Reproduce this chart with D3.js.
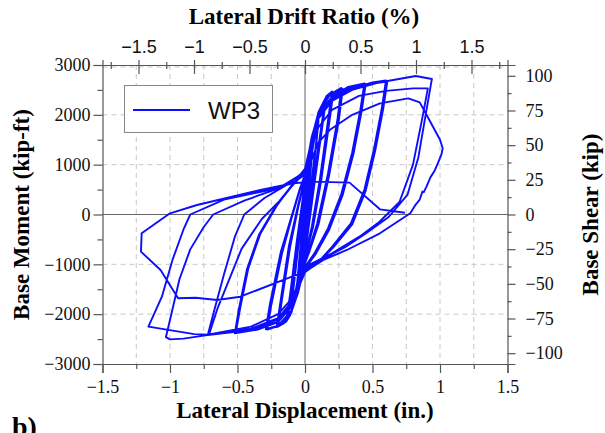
<!DOCTYPE html>
<html><head><meta charset="utf-8">
<script src="https://cdn.jsdelivr.net/npm/d3@7"></script>
<style>
html,body{margin:0;padding:0;background:#fff;}
svg{display:block;}
</style></head>
<body>
<svg id="chart" width="605" height="433"></svg>
<script>
// Hysteresis record of specimen WP3: lateral displacement (in.) and base moment (kip-ft)
const displacement = [
  0, 0.015, 0.03, 0.02, 0, -0.015, -0.03, -0.02, 0,
  0.03, 0.06, 0.045, 0.01, -0.03, -0.06, -0.045, -0.01,
  0.04, 0.08, 0.1, 0.085, 0.04, 0.01, -0.04, -0.08, -0.1, -0.085, -0.04, -0.01,
  0.05, 0.1, 0.08, 0.03, 0, -0.05, -0.1, -0.08, -0.03, 0,
  0.05, 0.1, 0.15, 0.12, 0.06, 0.02, 0, -0.05, -0.1, -0.13, -0.1, -0.05, -0.02, 0,
  0.05, 0.1, 0.16, 0.13, 0.07, 0.02, 0, -0.05, -0.11, -0.14, -0.11, -0.06, -0.02, 0,
  0.05, 0.1, 0.16, 0.2, 0.17, 0.11, 0.05, 0, -0.05, -0.1, -0.15, -0.2, -0.17, -0.11, -0.05, 0,
  0.05, 0.1, 0.16, 0.21, 0.18, 0.12, 0.06, 0, -0.05, -0.1, -0.16, -0.21, -0.18, -0.12, -0.05, 0,
  0.05, 0.1, 0.18, 0.27, 0.24, 0.17, 0.09, 0.03, 0, -0.05, -0.1, -0.2, -0.28, -0.25, -0.17, -0.1, -0.04, 0,
  0.05, 0.1, 0.18, 0.28, 0.25, 0.18, 0.1, 0.03, 0, -0.05, -0.1, -0.2, -0.29, -0.26, -0.18, -0.1, -0.04, 0,
  0.05, 0.1, 0.2, 0.32, 0.44, 0.41, 0.35, 0.27, 0.17, 0.07, 0, -0.05, -0.1, -0.2, -0.35, -0.52, -0.49, -0.43, -0.34, -0.22, -0.1, 0,
  0.05, 0.1, 0.2, 0.32, 0.45, 0.42, 0.36, 0.28, 0.18, 0.08, 0, -0.05, -0.1, -0.2, -0.35, -0.51, -0.48, -0.42, -0.33, -0.21, -0.1, 0,
  0.05, 0.1, 0.2, 0.35, 0.5, 0.6, 0.57, 0.51, 0.44, 0.34, 0.2, 0.1, 0, -0.05, -0.1, -0.2, -0.35, -0.5, -0.72, -0.67, -0.6, -0.52, -0.45, -0.3, -0.12, 0,
  0.05, 0.1, 0.2, 0.35, 0.5, 0.61, 0.58, 0.52, 0.45, 0.35, 0.21, 0.1, 0, -0.05, -0.1, -0.2, -0.35, -0.5, -0.71, -0.65, -0.57, -0.47, -0.32, -0.19, -0.08, 0,
  0.05, 0.1, 0.2, 0.35, 0.55, 0.82, 0.94, 0.9, 0.84, 0.76, 0.62, 0.45, 0.3, 0.14, 0, -0.05, -0.1, -0.2, -0.4, -0.7, -0.9, -1.0, -1.03, -0.99, -0.93, -0.85, -0.75, -0.68, -0.45, -0.2, 0,
  0.05, 0.1, 0.2, 0.4, 0.6, 0.8, 0.91, 0.87, 0.8, 0.7, 0.55, 0.4, 0.2, 0, -0.05, -0.1, -0.2, -0.4, -0.72, -0.82, -1.16, -1.06, -0.98, -0.9, -0.85, -0.6, -0.3, -0.1, 0,
  0.05, 0.1, 0.185, 0.35, 0.555, 0.765, 0.85, 0.92, 1.0, 1.02, 1.01, 0.98, 0.96, 0.93, 0.9, 0.88, 0.87, 0.85, 0.82, 0.78,
  0.555, 0.31, 0.136, 0, -0.16, -0.48, -0.65, -0.81, -0.94, -1.07, -1.215, -1.21, -1.0, -0.8, -0.33, -0.087, 0.06, 0.33, 0.555, 0.74
];
const moment = [
  0, 420, 780, 480, -20, -420, -780, -470, 30,
  820, 1420, 980, -60, -860, -1430, -980, 80,
  1050, 1680, 1920, 1500, 480, -380, -1100, -1690, -1900, -1480, -420, 360,
  1350, 1880, 1320, 160, -520, -1320, -1860, -1300, -150, 480,
  1420, 2010, 2300, 1750, 650, -320, -720, -1480, -1960, -2110, -1580, -560, 220, 620,
  1480, 2000, 2380, 1800, 620, -400, -760, -1500, -2020, -2150, -1600, -520, 260, 660,
  1520, 2060, 2380, 2470, 1880, 700, -250, -830, -1520, -1940, -2170, -2250, -1700, -650, 150, 700,
  1500, 2020, 2350, 2450, 1850, 680, -250, -880, -1520, -1920, -2170, -2260, -1720, -640, 200, 740,
  1540, 2050, 2400, 2540, 1900, 820, -180, -700, -950, -1560, -1950, -2240, -2310, -1820, -780, -80, 480, 780,
  1520, 2020, 2380, 2520, 1880, 800, -200, -760, -980, -1560, -1930, -2230, -2300, -1800, -760, -40, 500, 800,
  1560, 2020, 2360, 2560, 2630, 2100, 1250, 420, -280, -780, -1050, -1500, -1850, -2160, -2310, -2385, -1900, -1100, -400, 150, 560, 850,
  1540, 1990, 2330, 2530, 2620, 2080, 1230, 400, -300, -790, -1080, -1500, -1840, -2150, -2300, -2330, -1880, -1080, -380, 170, 580, 870,
  1520, 1960, 2300, 2530, 2650, 2690, 2150, 1300, 500, -180, -650, -950, -1150, -1480, -1790, -2100, -2280, -2350, -2420, -1900, -1200, -450, 0, 330, 620, 880,
  1500, 1940, 2280, 2510, 2630, 2670, 2130, 1280, 480, -200, -660, -960, -1160, -1480, -1780, -2090, -2270, -2340, -2400, -1900, -1360, -690, -90, 270, 640, 920,
  1500, 1930, 2280, 2500, 2650, 2780, 2720, 2100, 1150, 400, -50, -380, -650, -880, -1100, -1450, -1760, -2080, -2290, -2410, -2490, -2505, -2460, -2000, -1300, -700, -250, 0, 280, 520, 850,
  1350, 1750, 2100, 2380, 2480, 2530, 2530, 1950, 1000, 250, -150, -450, -780, -1050, -1400, -1700, -2000, -2250, -2410, -2400, -2250, -1650, -900, -300, 0, 300, 470, 620, 800,
  1100, 1450, 1700, 2000, 2230, 2330, 2250, 1900, 1500, 1330, 1200, 1000, 880, 750, 560, 450, 460, 300, 200, 25,
  -377, -712, -913, -1148, -1314, -1650, -1715, -1670, -1682, -1114, -746, -377, 24, 190, 492, 626, 660, 640, 104, 36
];

const bottomTicks = [-1.5, -1, -0.5, 0, 0.5, 1, 1.5];
const topTicks = [-1.5, -1, -0.5, 0, 0.5, 1, 1.5];
const leftTicks = [-3000, -2000, -1000, 0, 1000, 2000, 3000];
const rightTicks = [-100, -75, -50, -25, 0, 25, 50, 75, 100];
const seriesName = "WP3";

const svg = d3.select("#chart");
const frame = { left: 102.5, right: 507.5, top: 65, bottom: 364 };

const x = d3.scaleLinear().domain([-1.5, 1.5]).range([frame.left, frame.right]);
const y = d3.scaleLinear().domain([-3000, 3000]).range([frame.bottom, frame.top]);
// 1 % drift corresponds to 0.8222 in. of displacement
const inchPerPercent = 0.8222;
const xTop = d3.scaleLinear().domain([-1.5 / inchPerPercent, 1.5 / inchPerPercent]).range([frame.left, frame.right]);
// shear = moment / effective height (ft)
const leverArm = 27.83;
const yRight = d3.scaleLinear().domain([-3000 / leverArm, 3000 / leverArm]).range([frame.bottom, frame.top]);

const serif = "'Liberation Serif','Times New Roman',serif";
const sans = "'Liberation Sans',Arial,sans-serif";
const axisColor = "#555";

// dashed grid
const gridX = d3.range(-1.25, 1.5, 0.25).filter(v => Math.abs(v) > 1e-9);
svg.append("g").selectAll("line").data(gridX).join("line")
  .attr("x1", d => x(d)).attr("x2", d => x(d))
  .attr("y1", frame.top).attr("y2", frame.bottom)
  .attr("stroke", "#c8c8c8").attr("stroke-width", 1).attr("stroke-dasharray", "5,4");
const gridY = [-2000, -1000, 1000, 2000, 3000];
svg.append("g").selectAll("line").data(gridY).join("line")
  .attr("x1", frame.left).attr("x2", frame.right)
  .attr("y1", d => y(d) + (d === 3000 ? 2 : 0)).attr("y2", d => y(d) + (d === 3000 ? 2 : 0))
  .attr("stroke", "#c8c8c8").attr("stroke-width", 1).attr("stroke-dasharray", "5,4");

// zero lines
svg.append("line").attr("x1", x(0)).attr("x2", x(0)).attr("y1", frame.top).attr("y2", frame.bottom)
  .attr("stroke", "#666").attr("stroke-width", 1);
svg.append("line").attr("x1", frame.left).attr("x2", frame.right).attr("y1", y(0)).attr("y2", y(0))
  .attr("stroke", "#666").attr("stroke-width", 1);

function styleAxis(g) {
  g.select(".domain").attr("stroke", axisColor).attr("stroke-width", 1.2);
  g.selectAll(".tick line").attr("stroke", axisColor).attr("stroke-width", 1.2);
}

// bottom axis
const gB = svg.append("g").attr("transform", `translate(0,${frame.bottom})`)
  .call(d3.axisBottom(x).tickValues(bottomTicks).tickSize(9).tickPadding(7).tickFormat(d3.format("")));
styleAxis(gB);
gB.selectAll("text").attr("font-family", serif).attr("font-size", 18).attr("fill", "#111");
const gBm = svg.append("g").attr("transform", `translate(0,${frame.bottom})`)
  .call(d3.axisBottom(x).tickValues(d3.range(-1.25, 1.5, 0.5)).tickSize(5).tickFormat(""));
styleAxis(gBm); gBm.select(".domain").remove();

// left axis
const gL = svg.append("g").attr("transform", `translate(${frame.left},0)`)
  .call(d3.axisLeft(y).tickValues(leftTicks).tickSize(9).tickPadding(3).tickFormat(d3.format("")));
styleAxis(gL);
gL.selectAll("text").attr("font-family", serif).attr("font-size", 18).attr("fill", "#111");
const gLm = svg.append("g").attr("transform", `translate(${frame.left},0)`)
  .call(d3.axisLeft(y).tickValues(d3.range(-2500, 3000, 1000)).tickSize(5).tickFormat(""));
styleAxis(gLm); gLm.select(".domain").remove();

// right axis
const gR = svg.append("g").attr("transform", `translate(${frame.right},0)`)
  .call(d3.axisRight(yRight).tickValues(rightTicks).tickSize(8).tickPadding(10).tickFormat(d3.format("")));
styleAxis(gR);
gR.selectAll("text").attr("font-family", serif).attr("font-size", 18).attr("fill", "#111");
const gRm = svg.append("g").attr("transform", `translate(${frame.right},0)`)
  .call(d3.axisRight(yRight).tickValues(d3.range(-87.5, 100, 25)).tickSize(4).tickFormat(""));
styleAxis(gRm); gRm.select(".domain").remove();

// top axis (drift ratio), ticks cross the frame line
const gT = svg.append("g").attr("transform", `translate(0,${frame.top})`)
  .call(d3.axisTop(xTop).tickValues(topTicks).tickSize(5).tickPadding(7).tickFormat(d3.format("")));
styleAxis(gT);
gT.selectAll(".tick line").attr("y1", 9);
gT.selectAll("text").attr("font-family", sans).attr("font-size", 18).attr("fill", "#111");
const gTm = svg.append("g").attr("transform", `translate(0,${frame.top})`)
  .call(d3.axisTop(xTop).tickValues(d3.range(-1.75, 1.8, 0.5)).tickSize(3).tickFormat(""));
styleAxis(gTm); gTm.select(".domain").remove();
gTm.selectAll(".tick line").attr("y1", 4);

// hysteresis curve
const pts = d3.zip(displacement, moment);
svg.append("path").datum(pts)
  .attr("fill", "none").attr("stroke", "#0d0dff").attr("stroke-width", 1.9)
  .attr("stroke-linejoin", "round")
  .attr("d", d3.line().x(d => x(d[0])).y(d => y(d[1])));

// legend
const lg = svg.append("g");
lg.append("rect").attr("x", 124.5).attr("y", 85.5).attr("width", 148).attr("height", 47)
  .attr("fill", "#fff").attr("stroke", "#888").attr("stroke-width", 1);
lg.append("line").attr("x1", 133).attr("x2", 190).attr("y1", 110).attr("y2", 110)
  .attr("stroke", "#0d0dff").attr("stroke-width", 1.9);
lg.append("text").attr("x", 208).attr("y", 119).text(seriesName)
  .attr("font-family", sans).attr("font-size", 24).attr("fill", "#111");

// titles
svg.append("text").attr("x", 304).attr("y", 24).attr("text-anchor", "middle")
  .attr("font-family", serif).attr("font-weight", "bold").attr("font-size", 23)
  .text("Lateral Drift Ratio (%)");
svg.append("text").attr("x", 305).attr("y", 418).attr("text-anchor", "middle")
  .attr("font-family", serif).attr("font-weight", "bold").attr("font-size", 23)
  .text("Lateral Displacement (in.)");
svg.append("text").attr("transform", `translate(29,${y(0)}) rotate(-90)`).attr("text-anchor", "middle")
  .attr("font-family", serif).attr("font-weight", "bold").attr("font-size", 23)
  .text("Base Moment (kip-ft)");
svg.append("text").attr("transform", `translate(598,${y(0)}) rotate(-90)`).attr("text-anchor", "middle")
  .attr("font-family", serif).attr("font-weight", "bold").attr("font-size", 23)
  .text("Base Shear (kip)");
svg.append("text").attr("x", 12).attr("y", 436)
  .attr("font-family", serif).attr("font-weight", "bold").attr("font-size", 28)
  .text("b)");
</script>
</body></html>
